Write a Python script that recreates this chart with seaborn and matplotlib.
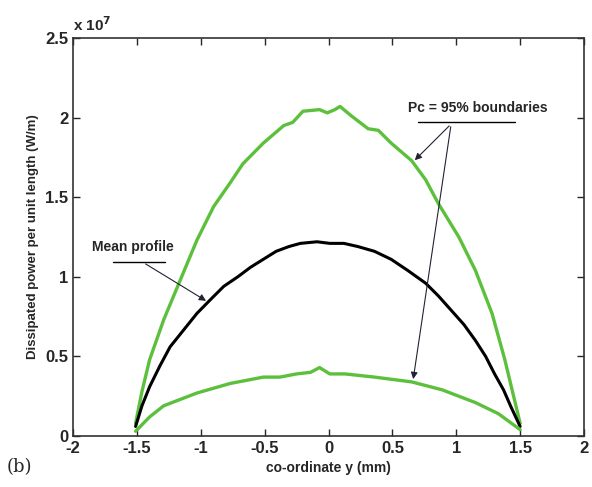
import numpy as np
import pandas as pd
import matplotlib
matplotlib.use("Agg")
import matplotlib.pyplot as plt
import seaborn as sns

# data (power in units of 1e7 W/m)
y_upper = [-1.51, -1.46, -1.40, -1.29, -1.16, -1.03, -0.90, -0.77, -0.67, -0.51,
           -0.35, -0.28, -0.20, -0.07, -0.01, 0.05, 0.09, 0.18, 0.31, 0.39,
           0.49, 0.65, 0.76, 0.86, 1.02, 1.15, 1.28, 1.38, 1.50]
p_upper = [0.08, 0.28, 0.48, 0.73, 0.98, 1.23, 1.44, 1.59, 1.71, 1.84,
           1.95, 1.97, 2.04, 2.05, 2.03, 2.05, 2.07, 2.01, 1.93, 1.92,
           1.84, 1.73, 1.61, 1.46, 1.25, 1.04, 0.77, 0.48, 0.08]

y_mean = [-1.51, -1.46, -1.40, -1.32, -1.24, -1.13, -1.03, -0.92, -0.82, -0.71,
          -0.61, -0.51, -0.41, -0.31, -0.22, -0.09, 0.01, 0.12, 0.23, 0.36,
          0.49, 0.62, 0.76, 0.86, 0.96, 1.06, 1.15, 1.23, 1.30, 1.37, 1.43, 1.50]
p_mean = [0.06, 0.19, 0.31, 0.44, 0.56, 0.67, 0.77, 0.86, 0.94, 1.00,
          1.06, 1.11, 1.16, 1.19, 1.21, 1.22, 1.21, 1.21, 1.19, 1.16,
          1.11, 1.04, 0.96, 0.88, 0.79, 0.70, 0.60, 0.50, 0.39, 0.29, 0.18, 0.06]

y_lower = [-1.51, -1.40, -1.29, -1.16, -1.03, -0.90, -0.77, -0.64, -0.51, -0.38,
           -0.25, -0.14, -0.07, 0.01, 0.13, 0.36, 0.65, 0.89, 1.15, 1.33, 1.50]
p_lower = [0.03, 0.12, 0.19, 0.23, 0.27, 0.30, 0.33, 0.35, 0.37, 0.37,
           0.39, 0.40, 0.43, 0.39, 0.39, 0.37, 0.34, 0.29, 0.21, 0.14, 0.04]

x_ticks = [-2, -1.5, -1, -0.5, 0, 0.5, 1, 1.5, 2]
x_ticklabels = ["-2", "-1.5", "-1", "-0.5", "0", "0.5", "1", "1.5", "2"]
y_ticks = [0, 0.5, 1, 1.5, 2, 2.5]
y_ticklabels = ["0", "0.5", "1", "1.5", "2", "2.5"]

green = "#5cc03c"

sns.set_style("ticks")
plt.rcParams["font.family"] = ["Liberation Sans", "DejaVu Sans"]
plt.rcParams["font.weight"] = "bold"

fig = plt.figure(figsize=(5.92, 4.87), dpi=100)
ax = fig.add_axes([0.1233, 0.1047, 0.8632, 0.8173])

sns.lineplot(x=y_upper, y=p_upper, color=green, lw=2.4, ax=ax, sort=False)
sns.lineplot(x=y_mean, y=p_mean, color="black", lw=2.2, ax=ax, sort=False)
sns.lineplot(x=y_lower, y=p_lower, color=green, lw=2.4, ax=ax, sort=False)

ax.set_xlim(-2, 2)
ax.set_ylim(0, 2.5)
ax.set_xticks(x_ticks)
ax.set_xticklabels(x_ticklabels)
ax.set_yticks(y_ticks)
ax.set_yticklabels(y_ticklabels)
ax.tick_params(direction="in", top=True, right=True, labelsize=12, length=5, width=1)
for s in ax.spines.values():
    s.set_linewidth(1.2)
    s.set_color("#333333")

ax.set_xlabel("co-ordinate y (mm)", fontsize=10, fontweight="bold")
ax.set_ylabel("Dissipated power per unit length (W/m)", fontsize=9.5, fontweight="bold")
ax.text(0.0, 1.01, r"x 10$^{7}$", transform=ax.transAxes, fontsize=11, va="bottom")
fig.text(0.012, 0.03, "(b)", fontsize=13, family="DejaVu Serif", fontweight="normal")

# annotations
arrow = dict(arrowstyle="-|>", color="#222233", lw=0.8, mutation_scale=10)
ax.text(0.62, 2.06, "Pc = 95% boundaries", fontsize=10, fontweight="bold", ha="left", va="center")
ax.plot([0.70, 1.46], [1.97, 1.97], color="black", lw=1)
ax.annotate("", xy=(0.66, 1.72), xytext=(0.96, 1.96), arrowprops=arrow)
ax.annotate("", xy=(0.66, 0.34), xytext=(0.96, 1.96), arrowprops=arrow)

ax.text(-1.85, 1.19, "Mean profile", fontsize=10, fontweight="bold", ha="left", va="center")
ax.plot([-1.69, -1.28], [1.09, 1.09], color="black", lw=1)
ax.annotate("", xy=(-0.94, 0.84), xytext=(-1.45, 1.09), arrowprops=arrow)

fig.savefig("out.png", dpi=100)
